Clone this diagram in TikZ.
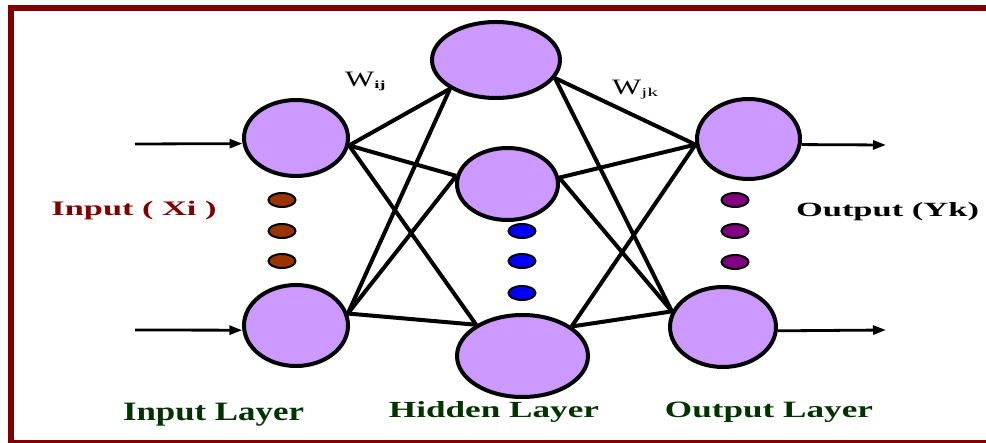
\documentclass[tikz,border=0pt]{standalone}
\usepackage{fontspec}
\setmainfont{Liberation Serif}
\usetikzlibrary{shapes.geometric,arrows.meta}

\definecolor{framered}{HTML}{800000}
\definecolor{neuronfill}{HTML}{CC99FF}
\definecolor{dotbrown}{HTML}{993300}
\definecolor{dotblue}{HTML}{0000FF}
\definecolor{dotpurple}{HTML}{800080}
\definecolor{layergreen}{HTML}{003300}

\tikzset{
  neuron/.style={ellipse, draw=black, line width=4pt, fill=neuronfill, inner sep=0pt},
  ellipsis dot/.style={ellipse, draw=black, line width=2pt, minimum width=27pt, minimum height=14pt, inner sep=0pt},
  link/.style={draw=black, line width=4pt},
  signal/.style={draw=black, line width=2.8pt, -{Triangle[length=13pt,width=9pt]}},
  label/.style={inner sep=0pt, anchor=base},
}

\begin{document}
\begin{tikzpicture}[x=1pt,y=-1pt]
\useasboundingbox (0,0) rectangle (986,443);

% page frame
\fill[framered] (8,5) rectangle (986,11);
\fill[framered] (8,5) rectangle (14,443);
\fill[framered] (8,440) rectangle (986,443);

% neurons
\node[neuron, minimum width=104pt, minimum height=76pt] (I1) at (296,138) {};
\node[neuron, minimum width=104pt, minimum height=81pt] (I2) at (296,325.5) {};
\node[neuron, minimum width=128pt, minimum height=76pt] (H1) at (496,60) {};
\node[neuron, minimum width=101pt, minimum height=72pt] (H2) at (507.5,184) {};
\node[neuron, minimum width=131pt, minimum height=82pt] (H3) at (522.5,356) {};
\node[neuron, minimum width=103pt, minimum height=80pt] (O1) at (748.5,139) {};
\node[neuron, minimum width=106pt, minimum height=80pt] (O2) at (723,327) {};

% input -> hidden weights
\draw[link] (I1.-8) -- (H1.212);
\draw[link] (I1.-8) -- (H2.171);
\draw[link] (I1.-8) -- (H3.146);
\draw[link] (I2.13) -- (H1.212);
\draw[link] (I2.13) -- (H2.171);
\draw[link] (I2.13) -- (H3.146);

% hidden -> output weights
\draw[link] (H1.-17) -- (O1.186);
\draw[link] (H1.-17) -- (O2.163);
\draw[link] (H2.7) -- (O1.186);
\draw[link] (H2.7) -- (O2.163);
\draw[link] (H3.31) -- (O1.186);
\draw[link] (H3.31) -- (O2.163);

% input and output signals
\coordinate (x1) at (135,144);
\coordinate (x2) at (135,330);
\coordinate (y1) at (886,145);
\coordinate (y2) at (886,330);
\draw[signal] (x1) -- (I1.186);
\draw[signal] (x2) -- (I2.185);
\draw[signal] (O1.-6) -- (y1);
\draw[signal] (O2.-4) -- (y2);

% ellipsis dots
\node[ellipsis dot, fill=dotbrown] (ib1) at (282,200) {};
\node[ellipsis dot, fill=dotbrown] (ib2) at (282,231) {};
\node[ellipsis dot, fill=dotbrown] (ib3) at (282,261) {};
\node[ellipsis dot, fill=dotblue] (hb1) at (522,231) {};
\node[ellipsis dot, fill=dotblue] (hb2) at (522,261) {};
\node[ellipsis dot, fill=dotblue] (hb3) at (522,293) {};
\node[ellipsis dot, fill=dotpurple] (ob1) at (735,200) {};
\node[ellipsis dot, fill=dotpurple] (ob2) at (735,231) {};
\node[ellipsis dot, fill=dotpurple] (ob3) at (735,262) {};

% weight labels
\node[inner sep=0pt, anchor=base west] (wij) at (345,86.7)
  {\scalebox{1.4}[1]{\fontsize{22pt}{22pt}\selectfont W}\raisebox{-2pt}{\scalebox{1.7}[1]{\fontsize{11pt}{11pt}\selectfont\bfseries ij}}};
\node[inner sep=0pt, anchor=base west] (wjk) at (612,95)
  {\scalebox{1.4}[1]{\fontsize{22pt}{22pt}\selectfont W}\raisebox{-1.5pt}{\scalebox{1.8}[1]{\fontsize{12pt}{12pt}\selectfont jk}}};

% side labels
\node[label, text=framered] (inlab) at (134,216) {\resizebox{165pt}{14.3pt}{\bfseries Input ( Xi )}};
\node[label, text=black] (outlab) at (887.5,217) {\resizebox{183pt}{14pt}{\bfseries Output (Yk)}};

% layer labels
\node[label, text=layergreen] (ilayer) at (213.5,420.5) {\resizebox{181pt}{17.4pt}{\bfseries Input Layer}};
\node[label, text=layergreen] (hlayer) at (494,417.5) {\resizebox{210pt}{16pt}{\bfseries Hidden Layer}};
\node[label, text=layergreen] (olayer) at (769,417.5) {\resizebox{208pt}{15.5pt}{\bfseries Output Layer}};

\end{tikzpicture}
\end{document}
